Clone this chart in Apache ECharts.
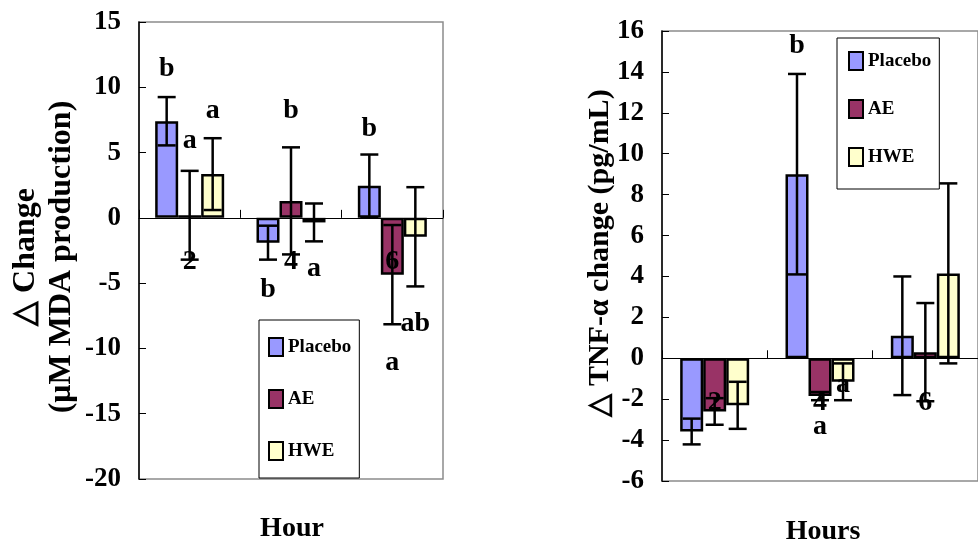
<!DOCTYPE html>
<html>
<head>
<meta charset="utf-8">
<script src="https://cdn.jsdelivr.net/npm/echarts@6/dist/echarts.min.js"></script>
<style>
html,body{margin:0;padding:0;background:#fff;}
#chart{width:978px;height:549px;}
</style>
</head>
<body>
<div id="chart"></div>
<script>
// ---------- data ----------
const CATEGORIES = ['2', '4', '6'];
const SERIES_NAMES = ['Placebo', 'AE', 'HWE'];

// Left panel: change in MDA production (μM)
const MDA_PLACEBO = [7.4, -1.9, 2.45];
const MDA_AE = [0.2, 1.3, -4.35];
const MDA_HWE = [3.35, -0.35, -1.45];
const MDA_PLACEBO_SD = [1.85, 1.3, 2.4];
const MDA_AE_SD = [3.4, 4.1, 3.8];
const MDA_HWE_SD = [2.75, 1.45, 3.8];
const MDA_TICKS = { min: -20, max: 15, step: 5 };
const MDA_LETTER_CAT = [0, 0, 0, 1, 1, 1, 2, 2, 2];
const MDA_LETTER_SER = [0, 1, 2, 1, 0, 2, 0, 1, 2];
const MDA_LETTER_Y = [11.4, 5.9, 8.2, 8.2, -5.5, -3.9, 6.8, -11.1, -8.1];
const MDA_LETTER_TEXT = ['b', 'a', 'a', 'b', 'b', 'a', 'b', 'a', 'ab'];

// Right panel: change in TNF-α (pg/mL)
const TNF_PLACEBO = [-3.58, 9.0, 1.1];
const TNF_AE = [-2.6, -1.85, 0.3];
const TNF_HWE = [-2.3, -1.15, 4.15];
const TNF_PLACEBO_SD = [0.63, 4.9, 2.9];
const TNF_AE_SD = [0.65, 0.2, 2.4];
const TNF_HWE_SD = [1.15, 0.9, 4.4];
const TNF_TICKS = { min: -6, max: 16, step: 2 };
const TNF_LETTER_CAT = [1, 1, 1];
const TNF_LETTER_SER = [0, 1, 2];
const TNF_LETTER_Y = [15.3, -3.35, -1.3];
const TNF_LETTER_TEXT = ['b', 'a', 'a'];

// ---------- styles ----------
const COLORS = ['#9999FF', '#993366', '#FFFFCC'];
const FONT = '"Liberation Serif", "Times New Roman", serif';
const BAR_W = 23;
const CAP = 9;
const CAT_LABEL_OFFSET = 44;

function errRenderer(offsetIdx) {
  return function (params, api) {
    const c = api.value(0), m = api.value(1), s = api.value(2);
    const top = api.coord([c, m + s]);
    const bot = api.coord([c, m - s]);
    const x = top[0] + (offsetIdx - 1) * BAR_W;
    const st = { stroke: '#000', lineWidth: 2.5 };
    return {
      type: 'group',
      children: [
        { type: 'line', shape: { x1: x, y1: top[1], x2: x, y2: bot[1] }, style: st },
        { type: 'line', shape: { x1: x - CAP, y1: top[1], x2: x + CAP, y2: top[1] }, style: st },
        { type: 'line', shape: { x1: x - CAP, y1: bot[1], x2: x + CAP, y2: bot[1] }, style: st }
      ]
    };
  };
}

function letterRenderer(serArr, textArr) {
  return function (params, api) {
    const p = api.coord([api.value(0), api.value(1)]);
    const i = params.dataIndex;
    return {
      type: 'text',
      x: p[0] + (serArr[i] - 1) * BAR_W,
      y: p[1],
      style: {
        text: textArr[i],
        font: 'bold 28px ' + FONT,
        fill: '#000',
        align: 'center',
        verticalAlign: 'middle'
      }
    };
  };
}

function catLabelRenderer(params, api) {
  const p = api.coord([api.value(0), api.value(1)]);
  return {
    type: 'text',
    x: p[0],
    y: p[1] + CAT_LABEL_OFFSET,
    style: {
      text: CATEGORIES[params.dataIndex],
      font: 'bold 28px ' + FONT,
      fill: '#000',
      align: 'center',
      verticalAlign: 'middle'
    }
  };
}

function buildPanel(gi, means, sds, letterCat, letterSer, letterY, letterText) {
  const out = [];
  means.forEach((vals, k) => {
    out.push({
      type: 'bar', name: SERIES_NAMES[k], xAxisIndex: gi, yAxisIndex: gi,
      data: vals, barWidth: BAR_W, barGap: '0%',
      itemStyle: { color: COLORS[k], borderColor: '#000', borderWidth: 2.5 },
      z: 2
    });
  });
  means.forEach((vals, k) => {
    out.push({
      type: 'custom', xAxisIndex: gi, yAxisIndex: gi,
      data: vals.map((v, i) => [i, v, sds[k][i]]),
      encode: { x: 0, y: 1 },
      renderItem: errRenderer(k), z: 5, silent: true
    });
  });
  out.push({
    type: 'custom', xAxisIndex: gi, yAxisIndex: gi,
    data: CATEGORIES.map((c, i) => [i, 0]),
    encode: { x: 0, y: 1 },
    renderItem: catLabelRenderer, z: 7, silent: true
  });
  out.push({
    type: 'custom', xAxisIndex: gi, yAxisIndex: gi,
    data: letterCat.map((c, i) => [c, letterY[i]]),
    encode: { x: 0, y: 1 },
    renderItem: letterRenderer(letterSer, letterText), z: 6, silent: true
  });
  return out;
}

const axisLabelStyle = { fontSize: 27, fontWeight: 'bold', fontFamily: FONT, color: '#000' };

function xAxisFor(gi) {
  return {
    gridIndex: gi, type: 'category', data: CATEGORIES,
    axisLine: { onZero: true, lineStyle: { color: '#000', width: 1 } },
    axisTick: { show: true, inside: true, length: 8, lineStyle: { color: '#000', width: 1 } },
    axisLabel: { show: false },
    splitLine: { show: false },
    z: 10
  };
}
function yAxisFor(gi, t) {
  return {
    gridIndex: gi, type: 'value', min: t.min, max: t.max, interval: t.step,
    splitLine: { show: false },
    axisLine: { show: true, lineStyle: { color: '#000', width: 1.5 } },
    axisTick: { show: true, inside: true, length: 7, lineStyle: { color: '#000', width: 1 } },
    axisLabel: Object.assign({ margin: 18 }, axisLabelStyle)
  };
}

function legendFor(left, top, gap, padding) {
  return {
    data: SERIES_NAMES, orient: 'vertical', left: left, top: top,
    padding: padding, itemGap: gap, itemWidth: 14, itemHeight: 18,
    borderColor: '#000', borderWidth: 1, backgroundColor: '#fff',
    icon: 'rect',
    itemStyle: { borderColor: '#000', borderWidth: 2 },
    textStyle: { fontSize: 19, fontWeight: 'bold', fontFamily: FONT, color: '#000', lineHeight: 18 },
    selectedMode: false
  };
}

const option = {
  animation: false,
  backgroundColor: '#fff',
  grid: [
    { left: 139, top: 22, width: 304, height: 457, show: true, borderColor: '#8c8c8c', borderWidth: 1.5, backgroundColor: 'transparent' },
    { left: 662, top: 31, width: 324, height: 450, show: true, borderColor: '#8c8c8c', borderWidth: 1.5, backgroundColor: 'transparent' }
  ],
  xAxis: [xAxisFor(0), xAxisFor(1)],
  yAxis: [yAxisFor(0, MDA_TICKS), yAxisFor(1, TNF_TICKS)],
  legend: [
    legendFor(259, 320, 32, [17, 8, 17, 9]),
    legendFor(837, 38, 28, [13, 8, 22, 11])
  ],
  graphic: [
    { type: 'text', x: 44, y: 257, rotation: Math.PI / 2,
      style: { text: '\u25B3 Change\n(\u03BCM MDA production)', font: 'bold 32px ' + FONT, fill: '#000', align: 'center', verticalAlign: 'middle', lineHeight: 36 } },
    { type: 'text', x: 600, y: 253, rotation: Math.PI / 2,
      style: { text: '\u25B3 TNF-\u03B1 change (pg/mL)', font: 'bold 30px ' + FONT, fill: '#000', align: 'center', verticalAlign: 'middle' } },
    { type: 'text', x: 292, y: 529,
      style: { text: 'Hour', font: 'bold 28px ' + FONT, fill: '#000', align: 'center', verticalAlign: 'middle' } },
    { type: 'text', x: 823, y: 532,
      style: { text: 'Hours', font: 'bold 28px ' + FONT, fill: '#000', align: 'center', verticalAlign: 'middle' } }
  ],
  series: [].concat(
    buildPanel(0, [MDA_PLACEBO, MDA_AE, MDA_HWE], [MDA_PLACEBO_SD, MDA_AE_SD, MDA_HWE_SD],
      MDA_LETTER_CAT, MDA_LETTER_SER, MDA_LETTER_Y, MDA_LETTER_TEXT),
    buildPanel(1, [TNF_PLACEBO, TNF_AE, TNF_HWE], [TNF_PLACEBO_SD, TNF_AE_SD, TNF_HWE_SD],
      TNF_LETTER_CAT, TNF_LETTER_SER, TNF_LETTER_Y, TNF_LETTER_TEXT)
  )
};

const chart = echarts.init(document.getElementById('chart'), null, { renderer: 'canvas' });
chart.setOption(option);
</script>
</body>
</html>
